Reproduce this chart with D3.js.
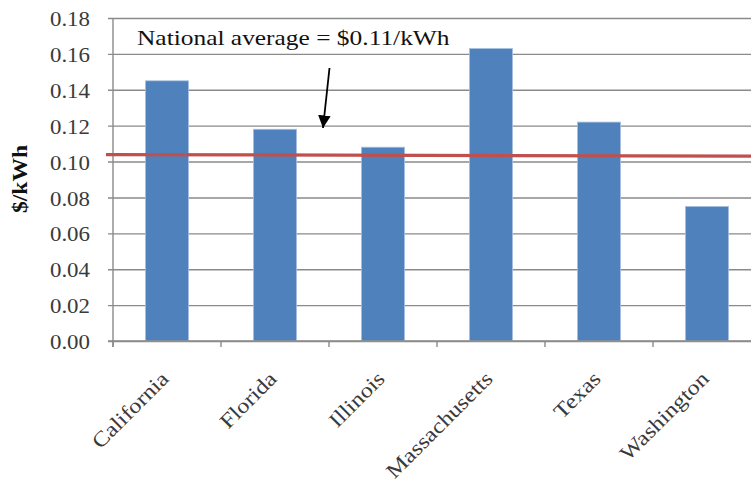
<!DOCTYPE html>
<html>
<head>
<meta charset="utf-8">
<script src="https://cdn.jsdelivr.net/npm/d3@7"></script>
<style>
  html, body { margin: 0; padding: 0; background: #fff; }
  svg { display: block; }
  text { font-family: "Liberation Serif", "Times New Roman", serif; }
</style>
</head>
<body>
<svg id="chart" width="751" height="483"></svg>
<script>
// Average residential electricity price by state ($/kWh)
const states = ["California", "Florida", "Illinois", "Massachusetts", "Texas", "Washington"];
const prices = [0.145, 0.118, 0.108, 0.163, 0.122, 0.075];
// National average reference line (left end, right end)
const averageLine = [0.1039, 0.1030];
const yTicks = [0, 0.02, 0.04, 0.06, 0.08, 0.10, 0.12, 0.14, 0.16, 0.18];
const annotation = "National average = $0.11/kWh";
const yTitle = "$/kWh";

(function draw() {
  const svg = d3.select("#chart");
  const plotLeft = 113, plotTop = 18, plotBottom = 341;
  const step = 108;
  const plotRight = plotLeft + step * states.length;   // plot runs past the window edge
  const serif = "'Liberation Serif', 'Times New Roman', serif";

  // widen the serif glyphs a little for a book-face look
  function widen(sel, factor) {
    sel.each(function () {
      const len = this.getComputedTextLength();
      d3.select(this).attr("textLength", len * factor).attr("lengthAdjust", "spacingAndGlyphs");
    });
  }

  const x = d3.scaleBand().domain(states).range([plotLeft, plotRight])
    .paddingInner(0.6).paddingOuter(0.3);
  const y = d3.scaleLinear().domain([0, 0.18]).range([plotBottom, plotTop]);

  const gridColor = "#8a8a8a";

  // horizontal gridlines with outward tick stubs
  const yAxis = svg.append("g")
    .attr("transform", `translate(${plotLeft},0)`)
    .call(d3.axisLeft(y).tickValues(yTicks).tickSize(-(751 - plotLeft)).tickSizeOuter(0)
      .tickFormat(d3.format(".2f")))
    .call(g => g.select(".domain").remove())
    .call(g => g.selectAll(".tick line").attr("stroke", gridColor).attr("stroke-width", 1.4).attr("x1", -5));
  yAxis.selectAll(".tick text")
    .attr("x", -23).attr("dy", "0.36em")
    .attr("fill", "#3a3a3a")
    .style("font-size", "21px")
    .style("font-family", serif)
    .call(widen, 1.09);

  // y axis line
  svg.append("line")
    .attr("x1", plotLeft).attr("x2", plotLeft).attr("y1", plotTop).attr("y2", plotBottom + 6)
    .attr("stroke", gridColor).attr("stroke-width", 1.4);

  // bars
  svg.append("g").selectAll("rect").data(states).join("rect")
    .attr("x", d => x(d))
    .attr("width", x.bandwidth())
    .attr("y", (d, i) => y(prices[i]))
    .attr("height", (d, i) => y(0) - y(prices[i]))
    .attr("fill", "#4f81bd")
    .attr("stroke", "#a9c1e0").attr("stroke-width", 0.8);

  // x axis line and category boundary ticks
  svg.append("line")
    .attr("x1", plotLeft - 5).attr("x2", 751).attr("y1", plotBottom).attr("y2", plotBottom)
    .attr("stroke", gridColor).attr("stroke-width", 1.4);
  svg.append("g").selectAll("line").data(d3.range(states.length + 1)).join("line")
    .attr("x1", i => plotLeft + i * step).attr("x2", i => plotLeft + i * step)
    .attr("y1", plotBottom).attr("y2", plotBottom + 6)
    .attr("stroke", gridColor).attr("stroke-width", 1.4);

  // category labels, rotated
  svg.append("g").selectAll("text").data(states).join("text")
    .attr("transform", d => `translate(${x(d) + x.bandwidth() / 2 + 3},${plotBottom + 39}) rotate(-45)`)
    .attr("text-anchor", "end")
    .attr("fill", "#3a3a3a")
    .style("font-size", "21px")
    .text(d => d)
    .call(widen, 1.16);

  // national average line
  const avgX = d3.scaleLinear().domain([0, 1]).range([106, 751]);
  svg.append("line")
    .attr("x1", avgX(0)).attr("x2", avgX(1))
    .attr("y1", y(averageLine[0])).attr("y2", y(averageLine[1]))
    .attr("stroke", "#c0504d").attr("stroke-width", 3.2);

  // annotation
  svg.append("text")
    .attr("x", 137).attr("y", 45)
    .attr("fill", "#111")
    .style("font-size", "21px")
    .text(annotation)
    .call(widen, 1.21);

  // arrow pointing at the average line
  const defs = svg.append("defs");
  defs.append("marker")
    .attr("id", "arrowhead").attr("viewBox", "0 0 10 10")
    .attr("refX", 10).attr("refY", 5)
    .attr("markerWidth", 7).attr("markerHeight", 8)
    .attr("markerUnits", "strokeWidth")
    .attr("orient", "auto")
    .append("path").attr("d", "M0,0 L10,5 L0,10 Z").attr("fill", "#000");
  svg.append("line")
    .attr("x1", 329.5).attr("y1", 68).attr("x2", 323).attr("y2", 128)
    .attr("stroke", "#000").attr("stroke-width", 1.8)
    .attr("marker-end", "url(#arrowhead)");

  // y axis title
  svg.append("text")
    .attr("transform", `translate(27,179) rotate(-90)`)
    .attr("text-anchor", "middle")
    .attr("fill", "#111")
    .style("font-size", "21px").style("font-weight", "bold")
    .text(yTitle)
    .call(widen, 1.12);
})();
</script>
</body>
</html>
